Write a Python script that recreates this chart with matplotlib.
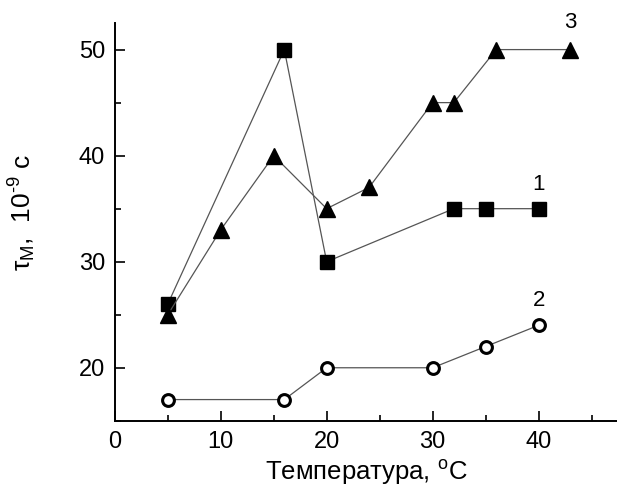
import matplotlib
matplotlib.use("Agg")
import matplotlib.pyplot as plt
from matplotlib.ticker import MultipleLocator

plt.rcParams['font.family'] = ['Liberation Sans', 'DejaVu Sans']
plt.rcParams['mathtext.fontset'] = 'custom'
plt.rcParams['mathtext.rm'] = 'Liberation Sans'
plt.rcParams['mathtext.it'] = 'Liberation Sans:italic'

x1 = [5, 16, 20, 32, 35, 40]
y1 = [26, 50, 30, 35, 35, 35]
x2 = [5, 16, 20, 30, 35, 40]
y2 = [17, 17, 20, 20, 22, 24]
x3 = [5, 10, 15, 20, 24, 30, 32, 36, 43]
y3 = [25, 33, 40, 35, 37, 45, 45, 50, 50]
labels = ["1", "2", "3"]
label_pos = [(40, 37.3), (40, 26.3), (43, 52.6)]

fig = plt.figure(figsize=(6.17, 4.91), dpi=100)
ax = fig.add_axes([0.186, 0.143, 0.814, 0.81])

lc = '#555555'
ax.plot(x1, y1, color=lc, lw=0.9, marker='s', ms=10.5, mfc='black', mec='black', zorder=3)
ax.plot(x3, y3, color=lc, lw=0.9, marker='^', ms=12, mfc='black', mec='black', zorder=3)
ax.plot(x2, y2, color=lc, lw=0.9, marker='o', ms=8.5, mfc='white', mec='black', mew=2.2, zorder=3)

for t, (lx, ly) in zip(labels, label_pos):
    ax.text(lx, ly, t, fontsize=16, ha='center', va='center', clip_on=False)

ax.set_xlim(0, 47.4)
ax.set_ylim(15, 52.5)
ax.xaxis.set_major_locator(MultipleLocator(10))
ax.xaxis.set_minor_locator(MultipleLocator(5))
ax.yaxis.set_minor_locator(MultipleLocator(5))
ax.set_yticks([20, 30, 40, 50])
ax.tick_params(which='major', direction='in', length=7, width=1.2, labelsize=17, pad=7)
ax.tick_params(which='minor', direction='in', length=4, width=1.2)
for s in ['top', 'right']:
    ax.spines[s].set_visible(False)
for s in ['left', 'bottom']:
    ax.spines[s].set_linewidth(1.4)

ax.set_xlabel('Температура, $^{\\mathrm{o}}$C', fontsize=18.5, labelpad=4)
ax.set_ylabel('$\\mathrm{\\tau_M}$,  10$^{\\text{-9}}$ с', fontsize=19)
ax.yaxis.set_label_coords(-0.153, 0.525)

fig.savefig('out.png', dpi=100)
